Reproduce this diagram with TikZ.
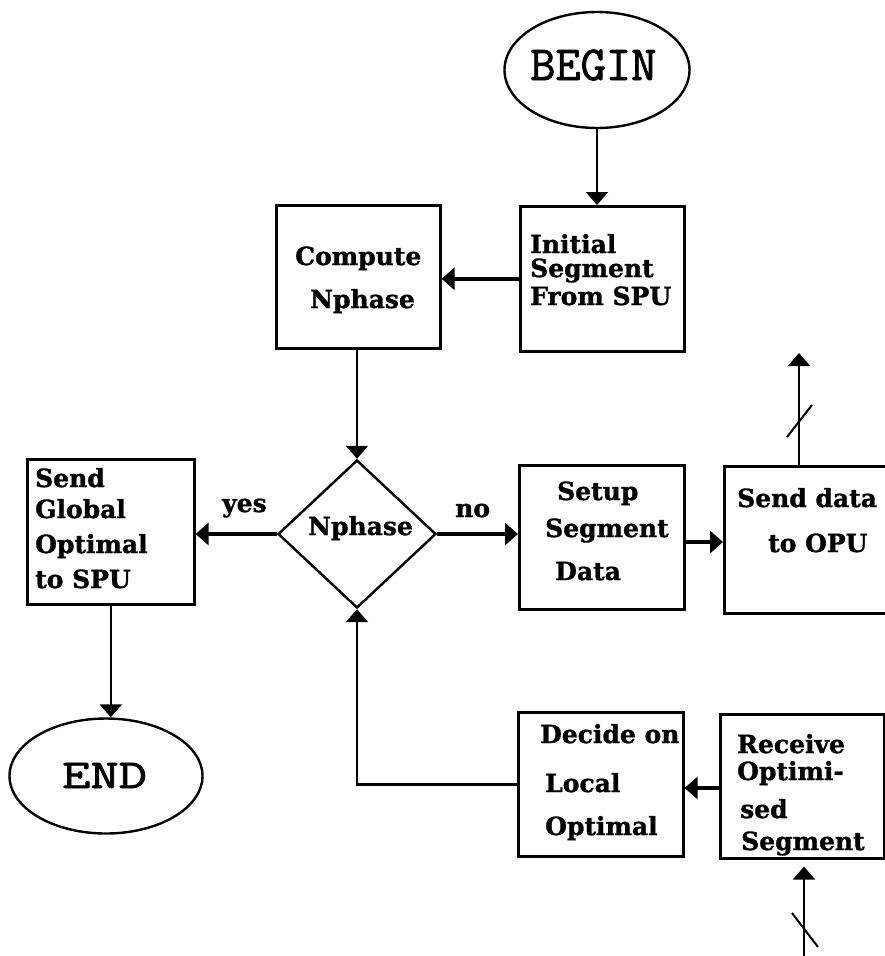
\documentclass[tikz,border=0pt]{standalone}
\usepackage{fontspec}
\setmainfont{DejaVu Serif}
\newfontfamily\boxfont[BoldFeatures={FakeBold=1.2}]{DejaVu Serif}
\newfontfamily\termfont[FakeBold=1.6]{Latin Modern Mono}
\usetikzlibrary{shapes.geometric,arrows.meta}

\begin{document}
\begin{tikzpicture}[x=1pt,y=-1pt,
  box/.style={draw, line width=2.6pt, rectangle, inner sep=0pt, anchor=north west},
  oval/.style={draw, line width=2.4pt, ellipse, inner sep=0pt},
  lbl/.style={font=\boxfont\fontsize{25}{25}\selectfont\bfseries, anchor=base west, inner sep=0pt},
  term/.style={font=\termfont, anchor=base west, inner sep=0pt},
  conn/.style={line width=2pt, -{Triangle[length=13pt,width=22pt]}},
  connthick/.style={line width=3.6pt, -{Triangle[length=13pt,width=22pt]}},
  tick/.style={line width=2pt}]

\useasboundingbox (0,0) rectangle (885,956);
\clip (0,0) rectangle (885,956);

% terminals
\node[oval, minimum width=185pt, minimum height=116pt] (begin) at (597,70) {};
\node[term] (beginT) at (530,80) {\fontsize{49}{49}\selectfont BEGIN};
\node[oval, minimum width=193pt, minimum height=115pt] (end) at (106,776) {};
\node[term] (endT) at (62,788) {\fontsize{41}{41}\selectfont\scalebox{1.34}[1]{END}};

% process boxes
\node[box, minimum width=164pt, minimum height=145pt] (init)   at (519,205) {};
\node[box, minimum width=164pt, minimum height=143pt] (comp)   at (275,204) {};
\node[box, minimum width=167pt, minimum height=145pt] (sendg)  at (26,458) {};
\node[box, minimum width=165pt, minimum height=144pt] (setup)  at (518,464) {};
\node[box, minimum width=175pt, minimum height=147pt] (sdata)  at (723,465) {};
\node[box, minimum width=165pt, minimum height=144pt] (decide) at (517,711) {};
\node[box, minimum width=164pt, minimum height=144pt] (recv)   at (719,713) {};

% decision
\node[draw, line width=2.4pt, diamond, inner sep=0pt,
      minimum width=158pt, minimum height=148pt] (dec) at (357,534) {};

% box texts
\node[lbl] (t1a) at (530,253) {Initial};
\node[lbl] (t1b) at (530,277) {Segment};
\node[lbl] (t1c) at (530,305) {From SPU};

\node[lbl] (t2a) at (295,265) {Compute};
\node[lbl] (t2b) at (310,308) {Nphase};

\node[lbl] (t3a) at (35,487) {Send};
\node[lbl] (t3b) at (35,518) {Global};
\node[lbl] (t3c) at (35,553) {Optimal};
\node[lbl] (t3d) at (35,588) {to SPU};

\node[lbl] (t4a) at (557,500) {Setup};
\node[lbl] (t4b) at (545,537) {Segment};
\node[lbl] (t4c) at (555,580) {Data};

\node[lbl] (t5a) at (737,507) {Send data};
\node[lbl] (t5b) at (768,552) {to OPU};

\node[lbl] (t6a) at (540,743) {Decide on};
\node[lbl] (t6b) at (545,792) {Local};
\node[lbl] (t6c) at (545,835) {Optimal};

\node[lbl] (t7a) at (737,753) {Receive};
\node[lbl] (t7b) at (737,780) {Optimi-};
\node[lbl] (t7c) at (740,818) {sed};
\node[lbl] (t7d) at (741,850) {Segment};

\node[lbl] (t8) at (308,535) {Nphase};
\node[lbl] (yes) at (222,512) {yes};
\node[lbl] (no) at (455,517) {no};

% helper points
\coordinate (rowA) at (700,542);
\coordinate (rowB) at (700,788);
\coordinate (opuout) at (799,353);
\coordinate (opuin) at (804,960);

% connectors
\draw[conn] (begin.south) -- (begin.south |- init.north);
\draw[connthick] (init.west) -- (comp.east |- init.west);
\draw[conn] (dec.north |- comp.south) -- (dec.north);
\draw[connthick] (dec.west) -- (sendg.east |- dec.west);
\draw[connthick] (dec.east) -- (setup.west |- dec.east);
\draw[connthick] (setup.east |- rowA) -- (sdata.west |- rowA);
\draw[conn] (sdata.north -| opuout) -- (opuout);
\draw[connthick] (recv.west |- rowB) -- (decide.east |- rowB);
\draw[line width=2.4pt, -{Triangle[length=13pt,width=22pt]}] (decide.west) -| (dec.south);
\draw[conn, shorten >=7pt] (opuin) -- (recv.south -| opuin);
\draw[conn] (sendg.south) -- (sendg.south |- end.north);

% bus slashes
\draw[tick] (787,437) -- (812,405);
\draw[tick] (792,913) -- (818,947);

\end{tikzpicture}
\end{document}
